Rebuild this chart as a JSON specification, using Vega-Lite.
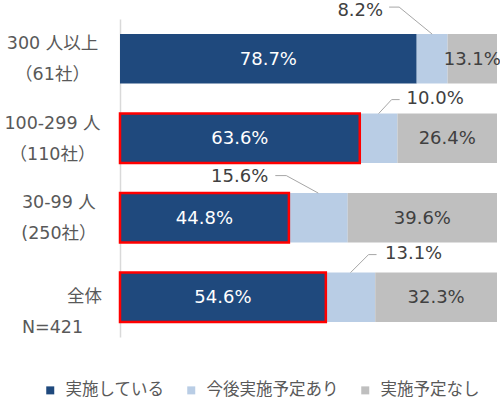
{
  "$schema": "https://vega.github.io/schema/vega-lite/v6.json",
  "width": 377,
  "height": 318,
  "autosize": {"type": "none"},
  "padding": {"left": 120, "top": 19, "right": 3, "bottom": 62},
  "background": "white",
  "config": {"view": {"stroke": null}, "text": {"font": "DejaVu Sans, Noto Sans CJK JP"}},
  "data": {"values": [
    {"cat": "300 人以上", "kind": "実施している", "value": 78.7},
    {"cat": "300 人以上", "kind": "今後実施予定あり", "value": 8.2},
    {"cat": "300 人以上", "kind": "実施予定なし", "value": 13.1},
    {"cat": "100-299 人", "kind": "実施している", "value": 63.6},
    {"cat": "100-299 人", "kind": "今後実施予定あり", "value": 10.0},
    {"cat": "100-299 人", "kind": "実施予定なし", "value": 26.4},
    {"cat": "30-99 人", "kind": "実施している", "value": 44.8},
    {"cat": "30-99 人", "kind": "今後実施予定あり", "value": 15.6},
    {"cat": "30-99 人", "kind": "実施予定なし", "value": 39.6},
    {"cat": "全体", "kind": "実施している", "value": 54.6},
    {"cat": "全体", "kind": "今後実施予定あり", "value": 13.1},
    {"cat": "全体", "kind": "実施予定なし", "value": 32.3}
  ]},
  "transform": [
    {"stack": "value", "groupby": ["cat"], "as": ["s0", "s1"]},
    {"calculate": "(datum.s0 + datum.s1) / 2", "as": "mid"},
    {"calculate": "format(datum.value, '.1f') + '%'", "as": "lbl"}
  ],
  "layer": [
    {
      "mark": {"type": "bar"},
      "encoding": {
        "x": {"field": "s0", "type": "quantitative", "scale": {"domain": [0, 100]}, "axis": null},
        "x2": {"field": "s1"},
        "y": {
          "field": "cat", "type": "nominal", "sort": null,
          "scale": {"paddingInner": 0.38, "paddingOuter": 0.19},
          "axis": {
            "title": null, "domainColor": "#D9D9D9", "domainWidth": 1.5,
            "ticks": false, "tickSize": 0, "labelPadding": 68,
            "labelAlign": "center", "labelBaseline": "middle",
            "labelFont": "DejaVu Sans, Noto Sans CJK JP", "labelFontSize": 17.5,
            "labelColor": "#595959", "labelLineHeight": 31, "labelLimit": 0,
            "labelOverlap": false, "labelBound": false,
            "labelOffset": {"condition": {"test": "datum.value == '全体'", "value": 0}, "value": -14.5},
            "labelExpr": "datum.value == '300 人以上' ? ['300 人以上', '（61社）'] : datum.value == '100-299 人' ? ['100-299 人', '（110社）'] : datum.value == '30-99 人' ? ['\u280030-99 人', '\u2800(250社）'] : ['\u2800\u2800\u2800\u2800\u2800全体', 'N=421']"
          }
        },
        "color": {
          "field": "kind", "type": "nominal",
          "scale": {"domain": ["実施している", "今後実施予定あり", "実施予定なし"], "range": ["#1F497D", "#B9CDE5", "#BFBFBF"]},
          "legend": {
            "title": null, "orient": "none", "legendX": -78, "legendY": 363,
            "direction": "horizontal", "symbolType": "square", "symbolSize": 64,
            "symbolStrokeWidth": 0, "labelFontSize": 16.5,
            "labelFont": "DejaVu Sans, Noto Sans CJK JP", "labelColor": "#595959",
            "columnPadding": 18, "labelOffset": 7, "padding": 0, "labelLimit": 0
          }
        }
      }
    },
    {
      "transform": [{"filter": "datum.kind == '実施している' && datum.cat != '300 人以上'"}],
      "mark": {"type": "bar", "fill": "transparent", "stroke": "#FF0000", "strokeWidth": 2.5},
      "encoding": {
        "x": {"field": "s0", "type": "quantitative"},
        "x2": {"field": "s1"},
        "y": {"field": "cat", "type": "nominal", "sort": null}
      }
    },
    {
      "transform": [{"filter": "datum.kind != '今後実施予定あり'"}],
      "mark": {"type": "text", "fontSize": 18, "baseline": "middle", "dy": 1},
      "encoding": {
        "x": {"field": "mid", "type": "quantitative"},
        "y": {"field": "cat", "type": "nominal", "sort": null},
        "text": {"field": "lbl"},
        "color": {"condition": {"test": "datum.kind == '実施している'", "value": "#FFFFFF"}, "value": "#404040"}
      }
    },
    {
      "transform": [{"filter": "datum.kind == '今後実施予定あり' && datum.cat == '300 人以上'"}],
      "mark": {"type": "text", "fontSize": 18, "baseline": "middle", "align": "right", "dx": -49, "dy": -23, "color": "#404040"},
      "encoding": {
        "x": {"field": "mid", "type": "quantitative"},
        "y": {"field": "cat", "type": "nominal", "sort": null, "bandPosition": 0},
        "text": {"field": "lbl"}
      }
    },
    {
      "transform": [{"filter": "datum.kind == '今後実施予定あり' && datum.cat == '100-299 人'"}],
      "mark": {"type": "text", "fontSize": 18, "baseline": "middle", "align": "left", "dx": 28, "dy": -14.5, "color": "#404040"},
      "encoding": {
        "x": {"field": "mid", "type": "quantitative"},
        "y": {"field": "cat", "type": "nominal", "sort": null, "bandPosition": 0},
        "text": {"field": "lbl"}
      }
    },
    {
      "transform": [{"filter": "datum.kind == '今後実施予定あり' && datum.cat == '30-99 人'"}],
      "mark": {"type": "text", "fontSize": 18, "baseline": "middle", "align": "right", "dx": -50, "dy": -16.5, "color": "#404040"},
      "encoding": {
        "x": {"field": "mid", "type": "quantitative"},
        "y": {"field": "cat", "type": "nominal", "sort": null, "bandPosition": 0},
        "text": {"field": "lbl"}
      }
    },
    {
      "transform": [{"filter": "datum.kind == '今後実施予定あり' && datum.cat == '全体'"}],
      "mark": {"type": "text", "fontSize": 18, "baseline": "middle", "align": "left", "dx": 34.5, "dy": -18.5, "color": "#404040"},
      "encoding": {
        "x": {"field": "mid", "type": "quantitative"},
        "y": {"field": "cat", "type": "nominal", "sort": null, "bandPosition": 0},
        "text": {"field": "lbl"}
      }
    },
    {
      "transform": [{"filter": "datum.kind == '今後実施予定あり' && datum.cat == '300 人以上'"}],
      "mark": {"type": "rule", "color": "#A6A6A6", "strokeWidth": 1, "xOffset": 0, "yOffset": 0, "x2Offset": -33, "y2Offset": -27},
      "encoding": {
        "x": {"field": "mid", "type": "quantitative"}, "x2": {"field": "mid"},
        "y": {"field": "cat", "type": "nominal", "sort": null, "bandPosition": 0},
        "y2": {"field": "cat", "bandPosition": 0}
      }
    },
    {
      "transform": [{"filter": "datum.kind == '今後実施予定あり' && datum.cat == '300 人以上'"}],
      "mark": {"type": "rule", "color": "#A6A6A6", "strokeWidth": 1, "xOffset": -33, "yOffset": -27, "x2Offset": -43, "y2Offset": -27},
      "encoding": {
        "x": {"field": "mid", "type": "quantitative"}, "x2": {"field": "mid"},
        "y": {"field": "cat", "type": "nominal", "sort": null, "bandPosition": 0},
        "y2": {"field": "cat", "bandPosition": 0}
      }
    },
    {
      "transform": [{"filter": "datum.kind == '今後実施予定あり' && datum.cat == '100-299 人'"}],
      "mark": {"type": "rule", "color": "#A6A6A6", "strokeWidth": 1, "xOffset": 0, "yOffset": 0, "x2Offset": 13, "y2Offset": -14},
      "encoding": {
        "x": {"field": "mid", "type": "quantitative"}, "x2": {"field": "mid"},
        "y": {"field": "cat", "type": "nominal", "sort": null, "bandPosition": 0},
        "y2": {"field": "cat", "bandPosition": 0}
      }
    },
    {
      "transform": [{"filter": "datum.kind == '今後実施予定あり' && datum.cat == '100-299 人'"}],
      "mark": {"type": "rule", "color": "#A6A6A6", "strokeWidth": 1, "xOffset": 13, "yOffset": -14, "x2Offset": 21, "y2Offset": -14},
      "encoding": {
        "x": {"field": "mid", "type": "quantitative"}, "x2": {"field": "mid"},
        "y": {"field": "cat", "type": "nominal", "sort": null, "bandPosition": 0},
        "y2": {"field": "cat", "bandPosition": 0}
      }
    },
    {
      "transform": [{"filter": "datum.kind == '今後実施予定あり' && datum.cat == '30-99 人'"}],
      "mark": {"type": "rule", "color": "#A6A6A6", "strokeWidth": 1, "xOffset": 0, "yOffset": 0, "x2Offset": -32, "y2Offset": -17.5},
      "encoding": {
        "x": {"field": "mid", "type": "quantitative"}, "x2": {"field": "mid"},
        "y": {"field": "cat", "type": "nominal", "sort": null, "bandPosition": 0},
        "y2": {"field": "cat", "bandPosition": 0}
      }
    },
    {
      "transform": [{"filter": "datum.kind == '今後実施予定あり' && datum.cat == '30-99 人'"}],
      "mark": {"type": "rule", "color": "#A6A6A6", "strokeWidth": 1, "xOffset": -32, "yOffset": -17.5, "x2Offset": -43, "y2Offset": -17.5},
      "encoding": {
        "x": {"field": "mid", "type": "quantitative"}, "x2": {"field": "mid"},
        "y": {"field": "cat", "type": "nominal", "sort": null, "bandPosition": 0},
        "y2": {"field": "cat", "bandPosition": 0}
      }
    },
    {
      "transform": [{"filter": "datum.kind == '今後実施予定あり' && datum.cat == '全体'"}],
      "mark": {"type": "rule", "color": "#A6A6A6", "strokeWidth": 1, "xOffset": 0, "yOffset": 0, "x2Offset": 18, "y2Offset": -18},
      "encoding": {
        "x": {"field": "mid", "type": "quantitative"}, "x2": {"field": "mid"},
        "y": {"field": "cat", "type": "nominal", "sort": null, "bandPosition": 0},
        "y2": {"field": "cat", "bandPosition": 0}
      }
    },
    {
      "transform": [{"filter": "datum.kind == '今後実施予定あり' && datum.cat == '全体'"}],
      "mark": {"type": "rule", "color": "#A6A6A6", "strokeWidth": 1, "xOffset": 18, "yOffset": -18, "x2Offset": 26, "y2Offset": -18},
      "encoding": {
        "x": {"field": "mid", "type": "quantitative"}, "x2": {"field": "mid"},
        "y": {"field": "cat", "type": "nominal", "sort": null, "bandPosition": 0},
        "y2": {"field": "cat", "bandPosition": 0}
      }
    }
  ]
}
